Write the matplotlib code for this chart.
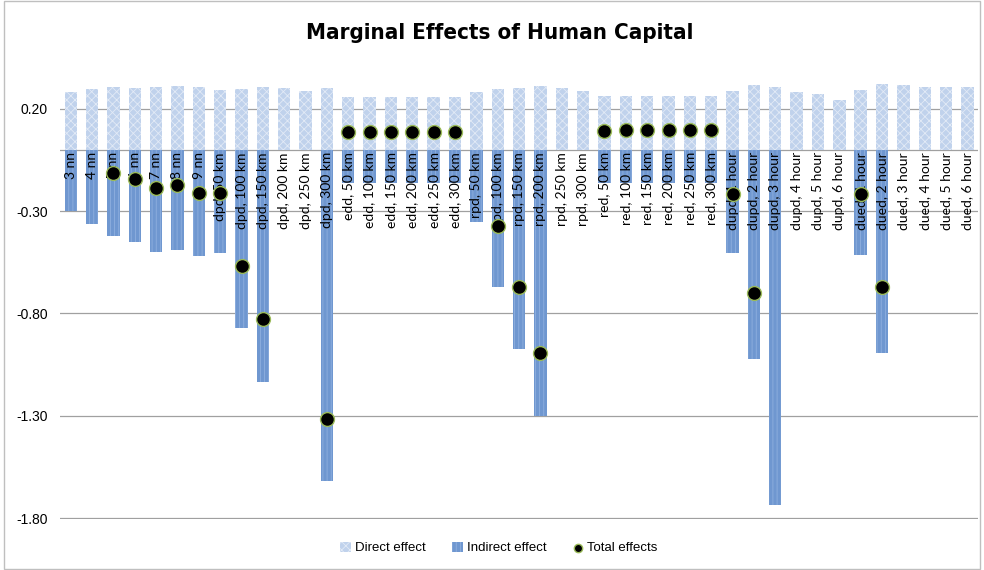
import matplotlib.pyplot as plt
import numpy as np
from matplotlib.patches import Rectangle

nan = np.nan

# Data
labels = ['3 nn', '4 nn', '5 nn', '6 nn', '7 nn', '8 nn', '9 nn',
          'dpd, 50 km', 'dpd, 100 km', 'dpd, 150 km', 'dpd, 200 km', 'dpd, 250 km', 'dpd, 300 km',
          'edd, 50 km', 'edd, 100 km', 'edd, 150 km', 'edd, 200 km', 'edd, 250 km', 'edd, 300 km',
          'rpd, 50 km', 'rpd, 100 km', 'rpd, 150 km', 'rpd, 200 km', 'rpd, 250 km', 'rpd, 300 km',
          'red, 50 km', 'red, 100 km', 'red, 150 km', 'red, 200 km', 'red, 250 km', 'red, 300 km',
          'dupd, 1 hour', 'dupd, 2 hour', 'dupd, 3 hour', 'dupd, 4 hour', 'dupd, 5 hour', 'dupd, 6 hour',
          'dued, 1 hour', 'dued, 2 hour', 'dued, 3 hour', 'dued, 4 hour', 'dued, 5 hour', 'dued, 6 hour']

direct = [0.281, 0.299, 0.307, 0.304, 0.307, 0.312, 0.307,
          0.294, 0.298, 0.306, 0.302, 0.288, 0.301,
          0.257, 0.257, 0.257, 0.257, 0.257, 0.257,
          0.284, 0.298, 0.304, 0.309, 0.302, 0.288,
          0.261, 0.261, 0.261, 0.261, 0.261, 0.261,
          0.289, 0.318, 0.308, 0.284, 0.274, 0.242,
          0.294, 0.323, 0.315, 0.307, 0.307, 0.305]

indirect = [-0.301, -0.361, -0.423, -0.451, -0.498, -0.488, -0.519,
            -0.503, -0.870, -1.137, nan, nan, -1.620,
            -0.161, -0.161, -0.161, -0.161, -0.161, -0.161,
            -0.353, -0.673, -0.974, -1.302, nan, nan,
            -0.161, -0.161, -0.161, -0.161, -0.161, -0.161,
            -0.503, -1.021, -1.735, nan, nan, nan,
            -0.513, -0.995, nan, nan, nan, nan]

total = [nan, nan, -0.116, -0.145, -0.189, -0.174, -0.210,
         -0.210, -0.568, -0.829, nan, nan, -1.316,
         0.086, 0.086, 0.086, 0.086, 0.086, 0.086,
         nan, -0.373, -0.670, -0.995, nan, nan,
         0.093, 0.096, 0.094, 0.094, 0.094, 0.094,
         -0.215, -0.701, nan, nan, nan, nan,
         -0.218, -0.673, nan, nan, nan, nan]

yticks = [0.20, -0.30, -0.80, -1.30, -1.80]

plt.rcParams['axes.unicode_minus'] = False
plt.rcParams['hatch.linewidth'] = 0.6
plt.rcParams['font.family'] = ['Liberation Sans', 'DejaVu Sans']

fig = plt.figure(figsize=(9.84, 5.7), dpi=100)
ax = fig.add_axes([0.061, 0.0895, 0.933, 0.7735])

x = np.arange(len(labels))
b1 = ax.bar(x, direct, width=0.58, color='#c0d2ec', edgecolor='#e2eaf6',
            hatch='xxxx', linewidth=0, label='Direct effect', zorder=2)
b2 = ax.bar(x, indirect, width=0.58, color='#6f97d0', edgecolor='#8fb0df',
            hatch='||||', linewidth=0, label='Indirect effect', zorder=2)

# category labels sit just under the zero line, on top of the bars
for xi, lab in zip(x, labels):
    ax.text(xi, -0.012, lab, rotation=90, ha='center', va='top',
            fontsize=10, family=['Lato', 'DejaVu Sans'], color='black', zorder=3)

sc = ax.scatter(x, total, s=100, color='black', edgecolor='#9bbb59',
                linewidth=1.0, label='Total effects', zorder=4)

ax.axhline(0, color='#a0a0a0', linewidth=0.9, zorder=1)
ax.set_ylim(-1.804, 0.35)
ax.set_xlim(-0.5, len(labels) - 0.5)
ax.set_yticks(yticks)
ax.set_yticklabels([f'{v:.2f}' for v in yticks], fontsize=10)
ax.set_xticks([])
ax.tick_params(axis='y', length=0, pad=9)
ax.yaxis.grid(True, color='#a0a0a0', linewidth=0.9)
ax.set_axisbelow(True)
for s in ax.spines.values():
    s.set_visible(False)

fig.suptitle('Marginal Effects of Human Capital', x=0.508, y=0.942, va='center',
             fontsize=16, fontweight='bold', fontstretch='condensed',
             family=['DejaVu Sans'])

fig.legend([b1, b2, sc], ['Direct effect', 'Indirect effect', 'Total effects'],
           loc='center', bbox_to_anchor=(0.507, 1 - 548 / 570), ncol=3, frameon=False,
           fontsize=9.5, handlelength=0.8, handleheight=0.8, handletextpad=0.3,
           columnspacing=2.0, markerscale=0.6)

fig.patches.append(Rectangle((0.004, 0.002), 0.992, 0.996, transform=fig.transFigure,
                             fill=False, edgecolor='#bfbfbf', linewidth=1))

fig.savefig('out.png', dpi=100)
